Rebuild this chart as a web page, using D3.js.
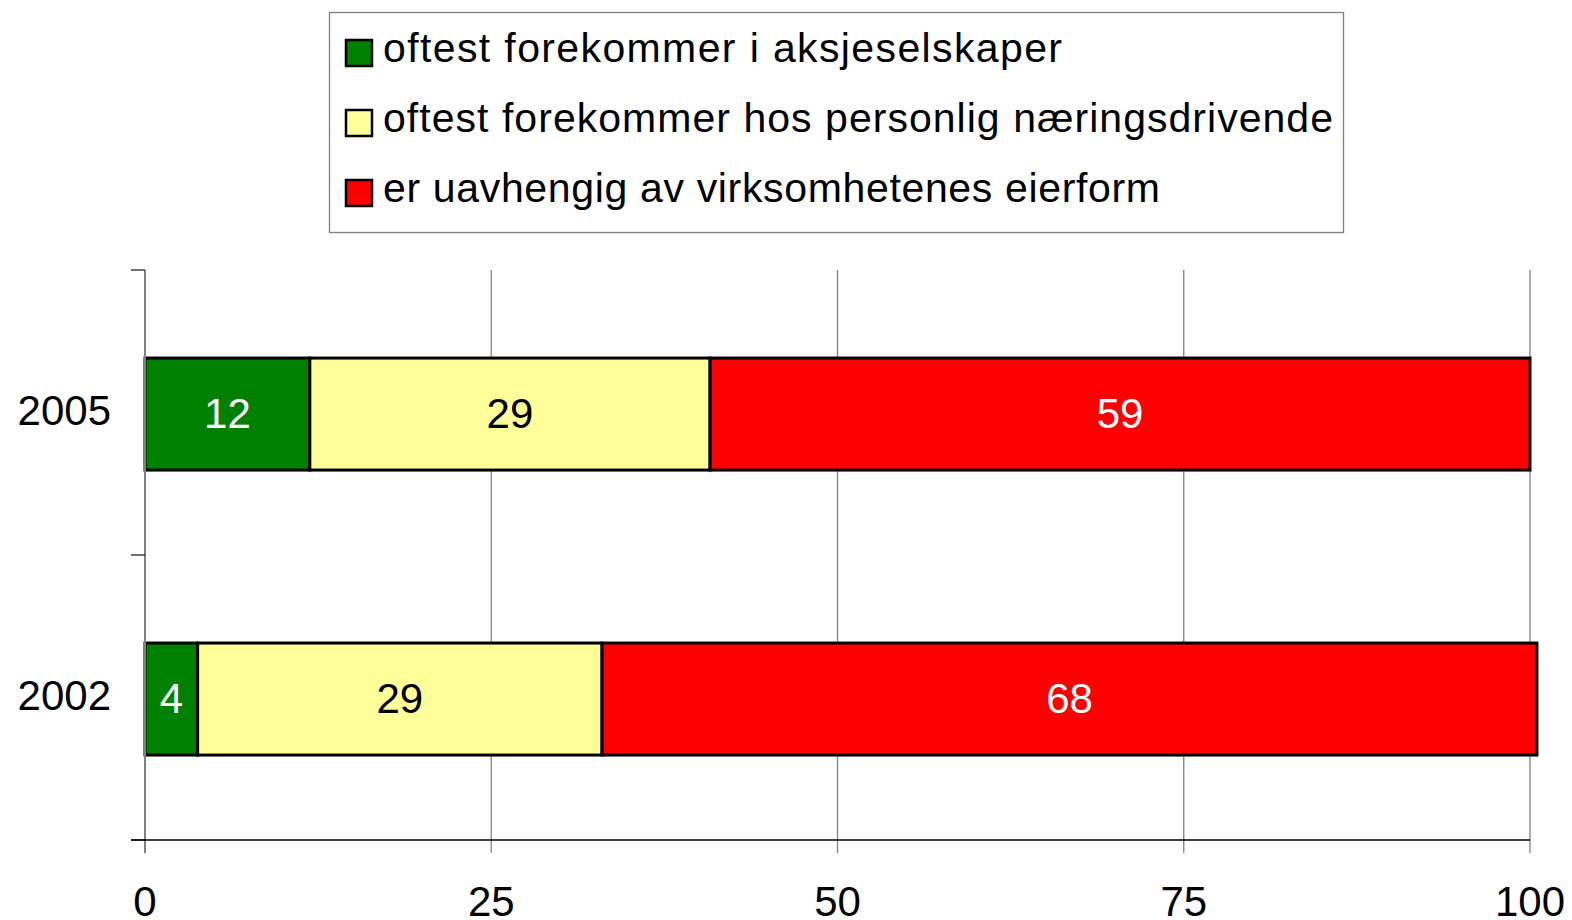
<!DOCTYPE html>
<html><head><meta charset="utf-8">
<script src="https://cdn.jsdelivr.net/npm/d3@7"></script>
<style>html,body{margin:0;padding:0;background:#fff;}svg{display:block;font-family:"Liberation Sans",Arial,sans-serif;}</style>
</head><body>
<svg id="c" width="1572" height="920"></svg>
<script>
const categories = ["2005", "2002"];
const seriesNames = ["oftest forekommer i aksjeselskaper", "oftest forekommer hos personlig næringsdrivende", "er uavhengig av virksomhetenes eierform"];
const seriesColors = ["#008000", "#FFFF99", "#FF0000"];
const labelColors = ["#ffffff", "#000000", "#ffffff"];
const valuesAksjeselskaper = [11.9, 3.8];
const valuesPersonlig = [28.9, 29.2];
const valuesUavhengig = [59.2, 67.5];
const labelsAksjeselskaper = ["12", "4"];
const labelsPersonlig = ["29", "29"];
const labelsUavhengig = ["59", "68"];
const xTicks = [0, 25, 50, 75, 100];

(function () {
const seriesValues = [valuesAksjeselskaper, valuesPersonlig, valuesUavhengig];
const seriesLabels = [labelsAksjeselskaper, labelsPersonlig, labelsUavhengig];
const legendWidths = [679, 950, 777];

const svg = d3.select("#c");
const pL = 145, pR = 1530, pT = 270, pB = 840;
const x = d3.scaleLinear().domain([0, 100]).range([pL, pR]);
const y = d3.scaleBand().domain(categories).range([pT, pB]).paddingInner(0.607).paddingOuter(0.3035).align(0.509);

// gridlines + x ticks
svg.append("g").selectAll("line").data(xTicks.slice(1)).join("line")
  .attr("x1", d => x(d)).attr("x2", d => x(d)).attr("y1", pT).attr("y2", pB + 13)
  .attr("stroke", "#808080").attr("stroke-width", 1.3);

// bars
const stacked = categories.map((c, i) => {
  let acc = 0;
  return seriesValues.map((s, k) => { const v0 = acc; acc += s[i]; return {c, k, v0, v1: acc, label: seriesLabels[k][i]}; });
}).flat();

svg.append("g").selectAll("rect").data(stacked).join("rect")
  .attr("x", d => x(d.v0)).attr("y", d => y(d.c))
  .attr("width", d => x(d.v1) - x(d.v0)).attr("height", y.bandwidth())
  .attr("fill", d => seriesColors[d.k]).attr("stroke", "#000").attr("stroke-width", 3);

svg.append("g").selectAll("text").data(stacked).join("text")
  .attr("x", d => (x(d.v0) + x(d.v1)) / 2).attr("y", d => y(d.c) + y.bandwidth() / 2)
  .attr("dy", "0.33em").attr("text-anchor", "middle")
  .attr("font-size", 42).attr("fill", d => labelColors[d.k]).text(d => d.label);

// y axis
svg.append("line").attr("x1", pL).attr("x2", pL).attr("y1", pT).attr("y2", pB + 13)
  .attr("stroke", "#808080").attr("stroke-width", 2);
const yTickPos = [pT, (pT + pB) / 2, pB];
svg.append("g").selectAll("line").data(yTickPos).join("line")
  .attr("x1", pL - 14).attr("x2", pL).attr("y1", d => d).attr("y2", d => d)
  .attr("stroke", "#222").attr("stroke-width", 1.3);
// x axis line
svg.append("line").attr("x1", pL - 14).attr("x2", pR).attr("y1", pB).attr("y2", pB)
  .attr("stroke", "#000").attr("stroke-width", 1.3);

svg.append("g").selectAll("text").data(categories).join("text")
  .attr("x", 111).attr("y", d => y(d) + y.bandwidth() / 2).attr("dy", "0.26em")
  .attr("text-anchor", "end").attr("font-size", 42).text(d => d);

svg.append("g").selectAll("text").data(xTicks).join("text")
  .attr("x", d => x(d)).attr("y", 916).attr("text-anchor", "middle")
  .attr("font-size", 42).text(d => d);

// legend
svg.append("rect").attr("x", 329.5).attr("y", 12.5).attr("width", 1014).attr("height", 220)
  .attr("fill", "#fff").attr("stroke", "#808080").attr("stroke-width", 1.3);
const lg = svg.append("g").selectAll("g").data(seriesNames).join("g")
  .attr("transform", (d, i) => `translate(0,${i * 70})`);
lg.append("rect").attr("x", 346).attr("y", 40).attr("width", 26).attr("height", 26)
  .attr("fill", (d, i) => seriesColors[i]).attr("stroke", "#000").attr("stroke-width", 2.5);
lg.append("text").attr("x", 383).attr("y", 62).attr("font-size", 41)
  .attr("textLength", (d, i) => legendWidths[i]).attr("lengthAdjust", "spacing").text(d => d);
})();
</script>
</body></html>
